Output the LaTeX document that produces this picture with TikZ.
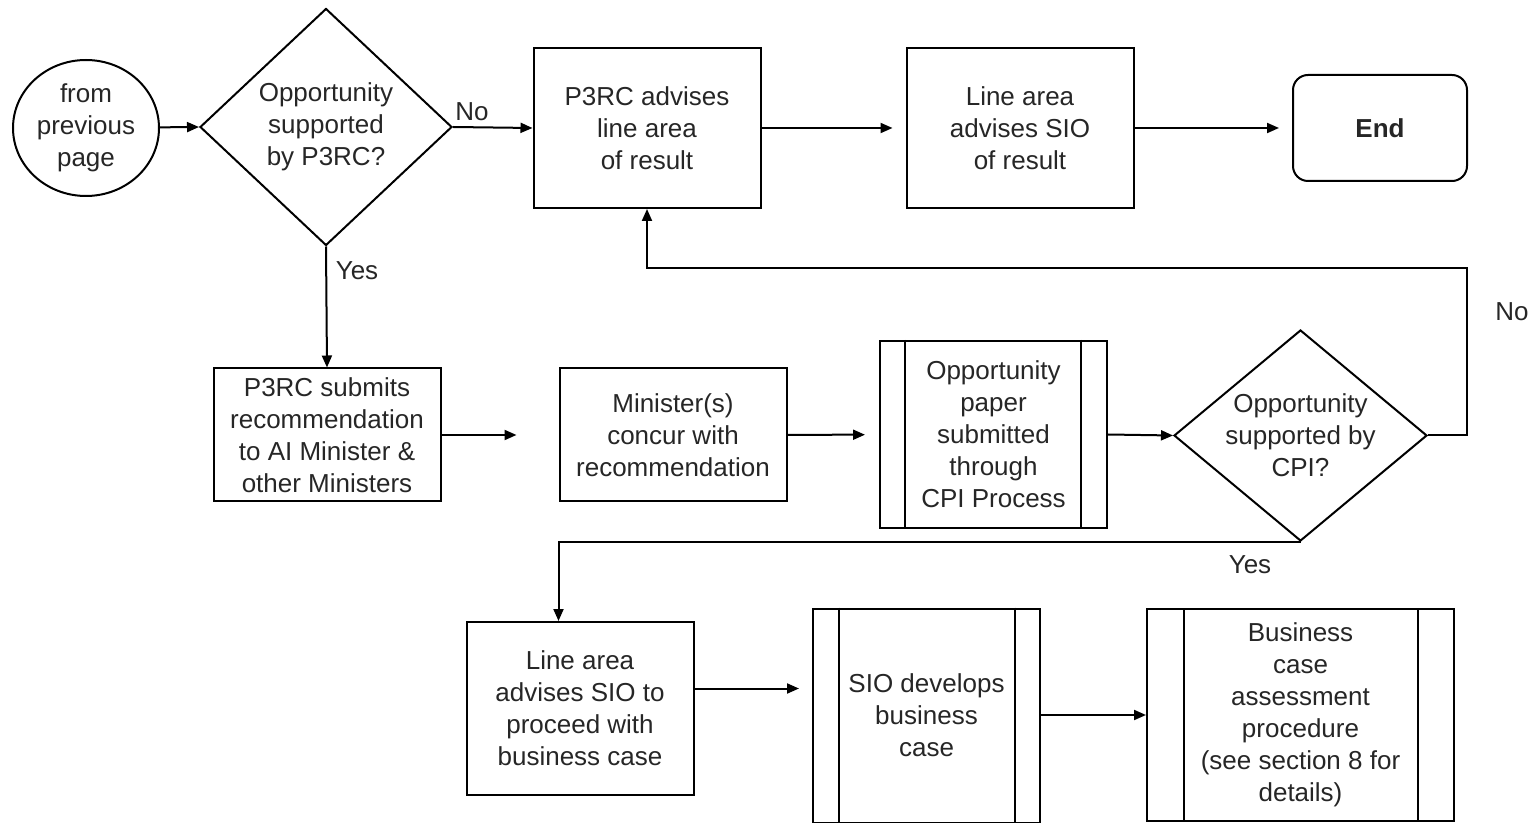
\documentclass[tikz,border=0pt]{standalone}
\usepackage{fontspec}
\setmainfont{Liberation Sans}
\usetikzlibrary{shapes.geometric,arrows.meta,calc}

\begin{document}
\begin{tikzpicture}[x=0.5pt,y=-0.5pt,
  every node/.style={font=\fontsize{13}{16}\selectfont, align=center, text=black!85},
  outline/.style={draw, line width=1pt, inner sep=0pt},
  box/.style={outline, rectangle, minimum width=113.5pt, minimum height=80pt},
  decision/.style={outline, diamond},
  terminal/.style={outline, rectangle, rounded corners=7.5pt, minimum width=87pt, minimum height=53pt, font=\fontsize{13}{16}\selectfont\bfseries},
  connector/.style={outline, ellipse, minimum width=73pt, minimum height=68pt},
  flow/.style={draw, line width=1pt, -{Triangle[length=6pt,width=5pt]}},
  line/.style={draw, line width=1pt},
  lbl/.style={inner sep=0pt}
]
\useasboundingbox (0,0) rectangle (1532,823);

% --- top row ---
\node[connector] (prev) at (86,128) {from\\previous\\page};
\node[decision, minimum width=126pt, minimum height=118.5pt] (d1) at (326,127)
  {Opportunity\\supported\\by P3RC?};
\node[box] (adv) at (647,128) {P3RC advises\\line area\\of result};
\node[box] (sio) at (1020,128) {Line area\\advises SIO\\of result};
\node[terminal] (end) at (1380,128) {End};

% --- middle row ---
\node[box, minimum height=66.5pt] (sub) at (327,435)
  {P3RC submits\\recommendation\\to AI Minister \&\\other Ministers};
\node[box, minimum height=66.5pt] (min) at (673,435)
  {Minister(s)\\concur with\\recommendation};
\node[box, minimum height=93.5pt] (cpi) at (993.5,434.5)
  {Opportunity\\paper\\submitted\\through\\CPI Process};
\node[decision, shape aspect=1.2, minimum width=126.5pt, minimum height=105.5pt] (d2) at (1300.5,435.5)
  {Opportunity\\supported by\\CPI?};

% --- bottom row ---
\node[box, minimum height=86.5pt] (pro) at (580,708.5)
  {Line area\\advises SIO to\\proceed with\\business case};
\node[box, minimum height=107pt] (dev) at (926.5,715.5)
  {SIO develops\\business\\case};
\node[box, minimum width=153.5pt, minimum height=106pt] (bca) at (1300.5,715)
  {Business\\case\\assessment\\procedure\\(see section 8 for\\details)};

% side bars of the predefined-process boxes
\draw[line] ([xshift=13pt]cpi.north west) -- ([xshift=13pt]cpi.south west);
\draw[line] ([xshift=-13.5pt]cpi.north east) -- ([xshift=-13.5pt]cpi.south east);
\draw[line] ([xshift=13.5pt]dev.north west) -- ([xshift=13.5pt]dev.south west);
\draw[line] ([xshift=-13pt]dev.north east) -- ([xshift=-13pt]dev.south east);
\draw[line] ([xshift=19pt]bca.north west) -- ([xshift=19pt]bca.south west);
\draw[line] ([xshift=-18.5pt]bca.north east) -- ([xshift=-18.5pt]bca.south east);

% branch labels
\node[lbl] (no1) at (472,112) {No};
\node[lbl] (yes1) at (357,271) {Yes};
\node[lbl] (no2) at (1512,312) {No};
\node[lbl] (yes2) at (1250,565) {Yes};

% helper points for the routed connectors
\coordinate (loop) at (1467,268);
\coordinate (proin) at ([xshift=46.5pt]pro.north west);
\coordinate (proout) at ([yshift=10pt]pro.east);

% connectors
\draw[flow] (prev) -- (d1.west);
\draw[flow] (d1.east) -- (adv.west);
\draw[flow, shorten >=6.5pt] (adv) -- (sio);
\draw[flow, shorten >=6.5pt] (sio) -- (end);
\draw[flow] (d1.south) -- (sub.north);
\draw[flow, shorten >=21pt] (sub) -- (min);
\draw[flow, shorten >=7pt] (min) -- (cpi);
\draw[flow] (cpi.east) -- (d2.west);
\draw[flow] (d2.east) -| (loop) -| (adv.south);
\draw[flow] (d2.south) -| (proin);
\draw[flow, shorten >=6.5pt] (proout) -- (proout -| dev.west);
\draw[flow] (dev.east |- bca.west) -- (bca.west);
\end{tikzpicture}
\end{document}
